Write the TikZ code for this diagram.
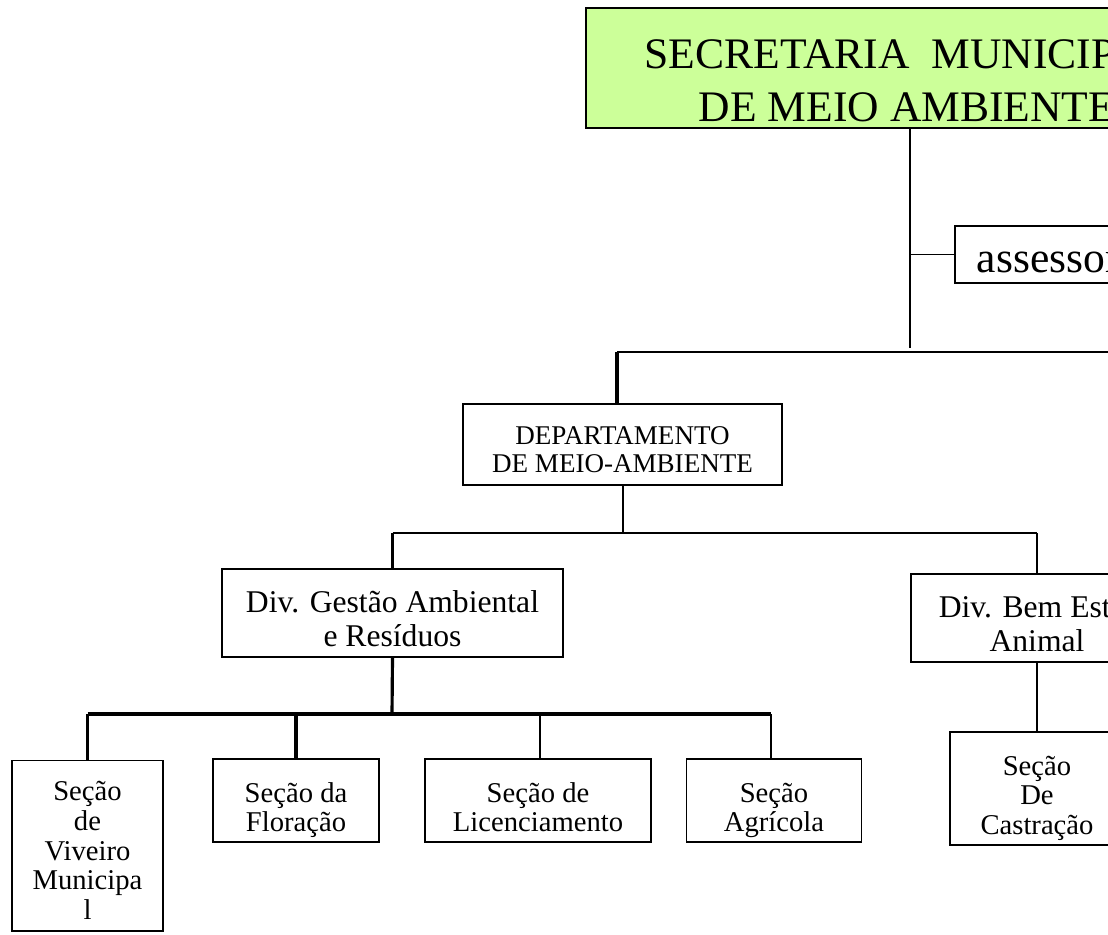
\documentclass[tikz,border=0pt]{standalone}
\usepackage{fontspec}
\setmainfont{Liberation Serif}
\usetikzlibrary{positioning}
\definecolor{limegreen}{HTML}{CCFF99}

\tikzset{
	box/.style={draw, line width=1pt, inner ysep=0pt, inner xsep=2pt, align=center},
	secbox/.style={box, font=\fontsize{16.3}{17}\selectfont, text height=41.4pt, text depth=5.7pt},
	divbox/.style={box, font=\fontsize{18}{19.3}\selectfont, text height=44.2pt, text depth=5.7pt},
	thinline/.style={line width=0.6pt},
	midline/.style={line width=1.1pt},
	boldline/.style={line width=1.8pt},
}

\begin{document}
\begin{tikzpicture}[x=0.02cm,y=-0.02cm]
	\useasboundingbox (0,0) rectangle (1108,934);
	\clip (0,0) rectangle (1108,934);
	\node[box, fill=limegreen, line width=1.2pt, font=\fontsize{24.8}{30.6}\selectfont, text height=64.6pt, text depth=3.4pt, minimum width=12.84cm] (sma) at (907,68) {SECRETARIA\ \ MUNICIPAL\\DE MEIO AMBIENTE};
	\node[box, anchor=west, inner xsep=12.5pt, font=\fontsize{24.8}{30.6}\selectfont, text height=26.6pt, text depth=5.7pt] (assess) at (954,254.5) {assessoria};
	\node[box, font=\fontsize{15.4}{15.9}\selectfont, text height=39.1pt, text depth=6.8pt, minimum width=6.38cm] (dept) at (622.5,444.5) {DEPARTAMENTO\\DE MEIO-AMBIENTE};
	\node[divbox, minimum width=6.82cm] (divga) at (392.5,613) {Div. Gestão Ambiental\\e Resíduos};
	\node[divbox, minimum width=5.04cm] (divba) at (1037,618) {Div. Bem Estar\\Animal};
	\node[secbox, text height=90.7pt, text depth=6.2pt, minimum width=3.02cm] (viveiro) at (87.5,845.5) {Seção\\de\\Viveiro\\Municipa\\l};
	\node[secbox, minimum width=3.32cm] (floracao) at (296,800.5) {Seção da\\Floração};
	\node[secbox, minimum width=4.52cm] (licenc) at (538,800.5) {Seção de\\Licenciamento};
	\node[secbox, minimum width=3.5cm] (agricola) at (774,800.5) {Seção\\Agrícola};
	\node[secbox, text height=58.4pt, text depth=5.7pt, minimum width=3.48cm] (castracao) at (1037,788.5) {Seção\\De\\Castração};

	\coordinate (trunk) at (910,348);
	\coordinate (busW) at (617,352);
	\coordinate (busE) at (1200,352);
	\coordinate (deptbus) at (623,533);
	\coordinate (divbus) at (392,714);

	\draw[thinline] (sma.south -| trunk) -- (trunk);
	\draw[midline] (assess.west) -- (assess.west -| trunk);
	\draw[thinline] (busW) -- (busE);
	\draw[boldline] (busW) -- (dept.north -| busW);
	\draw[midline] (dept.south -| deptbus) -- (deptbus);
	\draw[thinline] (divga.north |- deptbus) -- (divba.north |- deptbus);
	\draw[boldline] (divga.north |- deptbus) -- (divga.north);
	\draw[thinline] (divba.north |- deptbus) -- (divba.north);
	\draw[boldline] (divga.south) -- (divbus);
	\draw[boldline] (viveiro.north |- divbus) -- (771,714);
	\draw[boldline] (viveiro.north |- divbus) -- (viveiro.north);
	\draw[boldline] (floracao.north |- divbus) -- (floracao.north);
	\draw[thinline] (540,714) -- (licenc.north -| 540,0);
	\draw[midline] (771,714) -- (agricola.north -| 771,0);
	\draw[thinline] (divba.south) -- (castracao.north);
\end{tikzpicture}
\end{document}
